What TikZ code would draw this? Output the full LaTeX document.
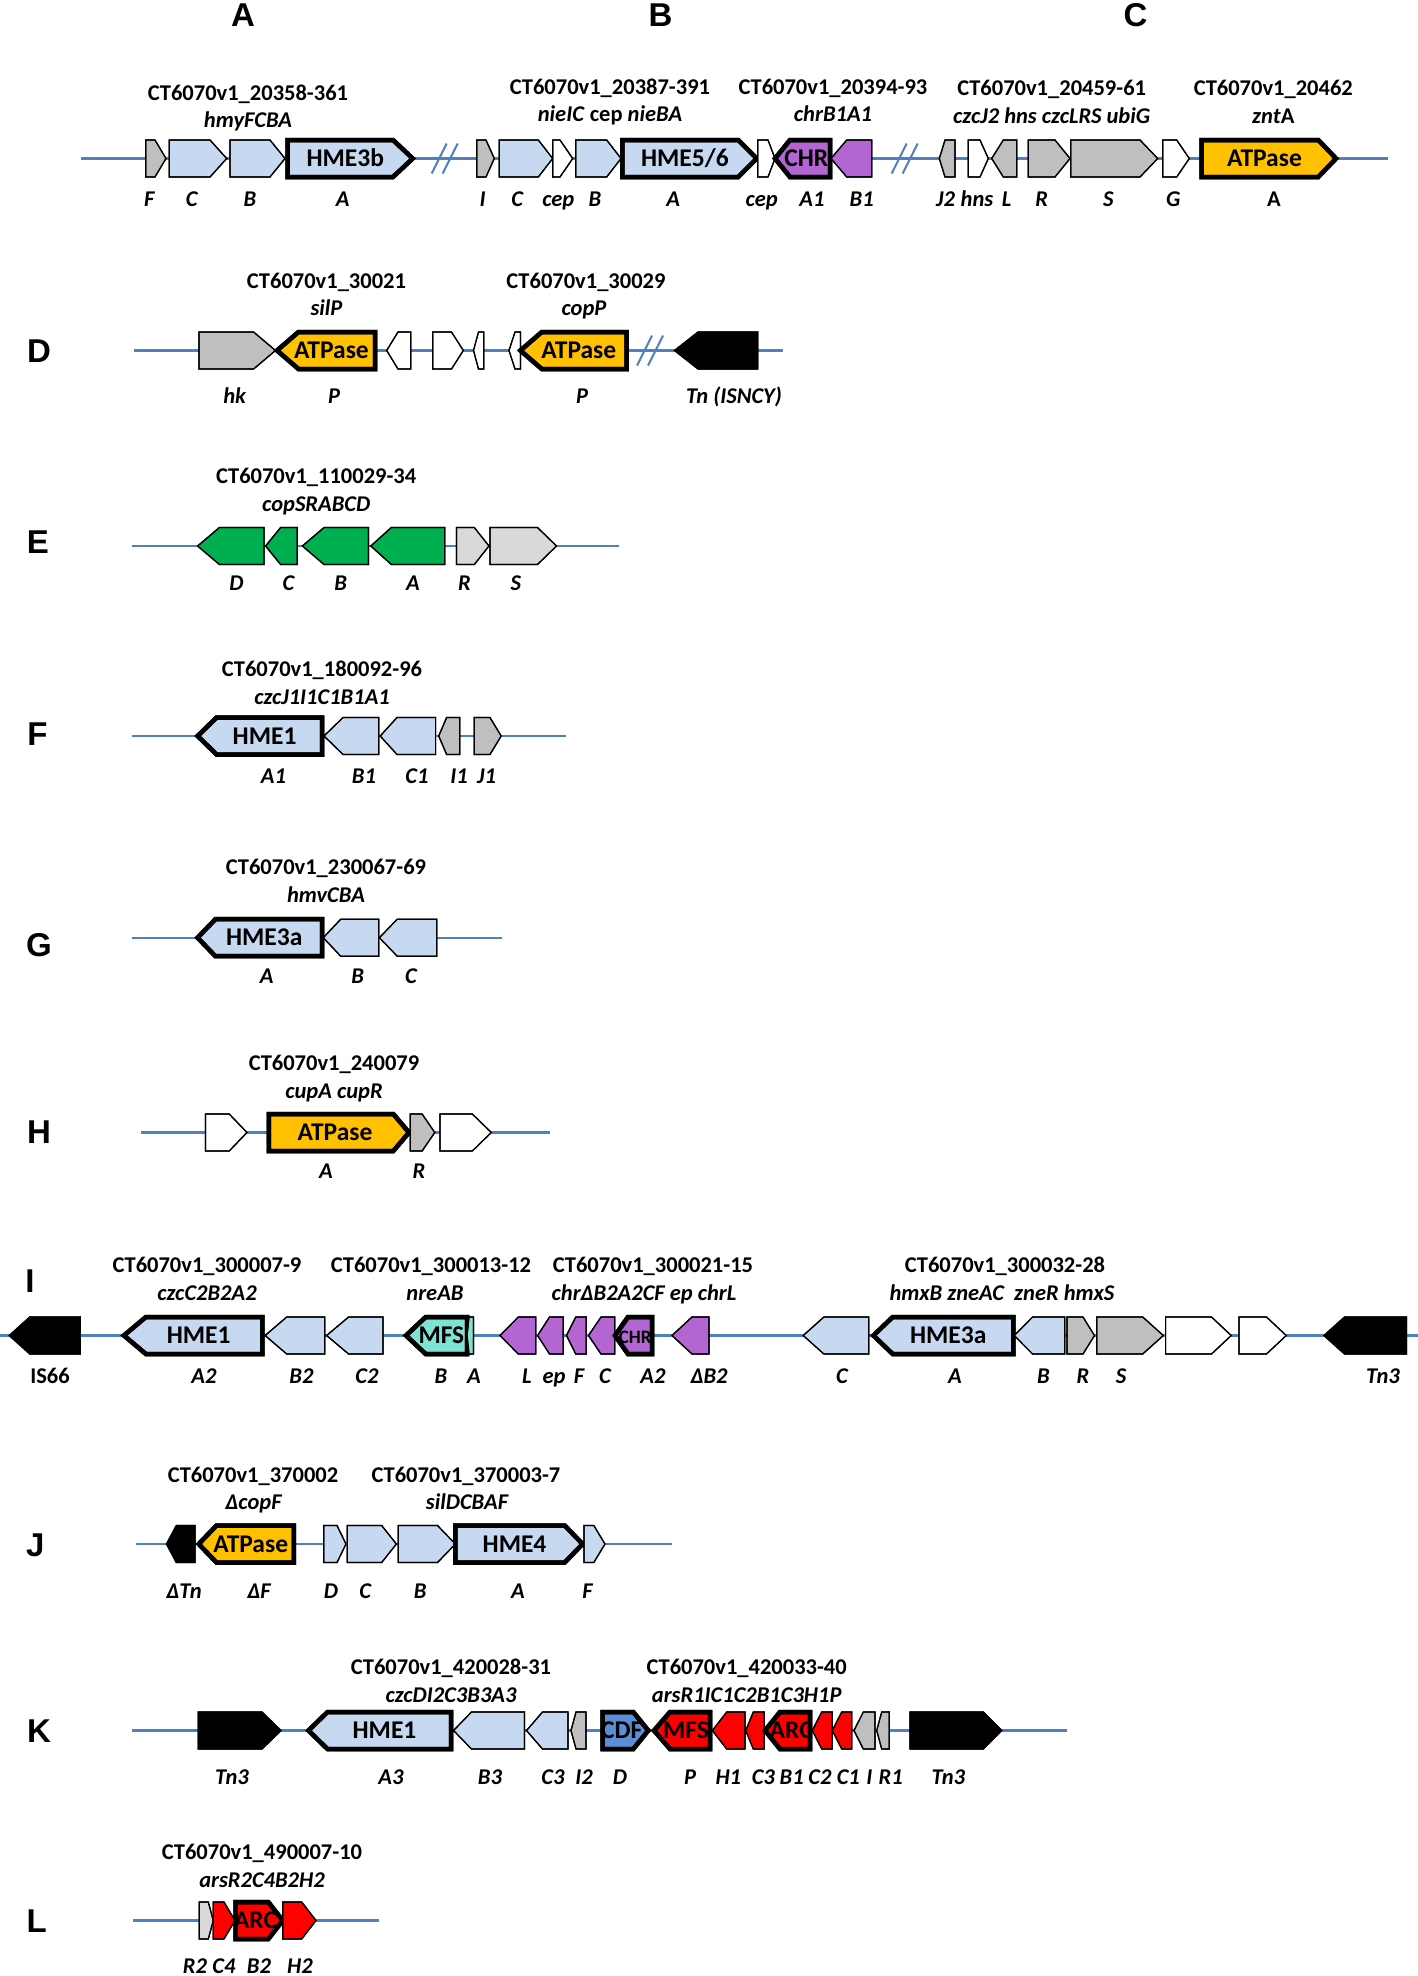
\documentclass[tikz,border=0pt]{standalone}
\usepackage{fontspec}
\setmainfont{Carlito}
\newfontfamily\arialf{Liberation Sans}
\definecolor{lblue}{HTML}{C6D9F1}
\definecolor{gry}{HTML}{BFBFBF}
\definecolor{lgry}{HTML}{D9D9D9}
\definecolor{grn}{HTML}{00B050}
\definecolor{pur}{HTML}{B366D1}
\definecolor{tealc}{HTML}{7FE3D3}
\definecolor{cdfc}{HTML}{5A8FD6}
\definecolor{orng}{HTML}{FFC000}
\definecolor{dnac}{HTML}{4F81BD}
\tikzset{
  gl/.style={draw=black, line width=1.2pt},
  gk/.style={draw=black, line width=4.5pt},
  lbF/.style={fill=lblue}, grF/.style={fill=gry}, lgF/.style={fill=lgry},
  whF/.style={fill=white}, grnF/.style={fill=grn}, purF/.style={fill=pur},
  tealF/.style={fill=tealc}, cdfF/.style={fill=cdfc}, redF/.style={fill=red},
  orF/.style={fill=orng}, blkF/.style={fill=black},
  dnaL/.style={draw=dnac, line width=2.2pt},
  slash/.style={draw=dnac, line width=2pt},
  lbl/.style={font=\fontsize{22.5}{26}\selectfont\bfseries\itshape, inner sep=0pt, text height=14.5pt, text depth=0pt},
  ttl/.style={font=\fontsize{22.5}{26}\selectfont\bfseries, inner sep=0pt, text height=14.5pt, text depth=0pt},
  sub/.style={font=\fontsize{22.5}{26}\selectfont\bfseries\itshape, inner sep=0pt, text height=14.5pt, text depth=0pt},
  gtxt/.style={font=\fontsize{25.5}{28}\selectfont\bfseries, inner sep=0pt, text height=16.4pt, text depth=0pt},
  rowlet/.style={font=\arialf\bfseries\fontsize{33}{36}\selectfont, inner sep=0pt, text height=23.6pt, text depth=0pt},
}
% right-pointing gene: name, style, x1, xt, x2, y, text
\newcommand{\gR}[7]{%
  \draw[#2] (#3,#6-18.5) -- (#4,#6-18.5) -- (#5,#6) -- (#4,#6+18.5) -- (#3,#6+18.5) -- cycle;
  \begin{scope}
    \clip (#3,#6-18.5) -- (#4,#6-18.5) -- (#5,#6) -- (#4,#6+18.5) -- (#3,#6+18.5) -- cycle;
    \node[gtxt] (#1) at ({(#3+#4)/2+(#5-#4)/4},#6) {#7};
  \end{scope}
  \draw[#2,fill=none] (#3,#6-18.5) -- (#4,#6-18.5) -- (#5,#6) -- (#4,#6+18.5) -- (#3,#6+18.5) -- cycle;
}
% left-pointing gene: name, style, x1, xt, x2, y, text
\newcommand{\gL}[7]{%
  \draw[#2] (#5,#6-18.5) -- (#4,#6-18.5) -- (#3,#6) -- (#4,#6+18.5) -- (#5,#6+18.5) -- cycle;
  \begin{scope}
    \clip (#5,#6-18.5) -- (#4,#6-18.5) -- (#3,#6) -- (#4,#6+18.5) -- (#5,#6+18.5) -- cycle;
    \node[gtxt] (#1) at ({(#4+#5)/2-(#4-#3)/4},#6) {#7};
  \end{scope}
  \draw[#2,fill=none] (#5,#6-18.5) -- (#4,#6-18.5) -- (#3,#6) -- (#4,#6+18.5) -- (#5,#6+18.5) -- cycle;
}
\newcommand{\brk}[2]{%
  \draw[slash] (#1,#2+15) -- (#1+15,#2-15);
  \draw[slash] (#1+11,#2+15) -- (#1+26,#2-15);
}
\newcommand{\lab}[4]{\node[lbl] (#1) at (#2,#3) {#4};}
\newcommand{\ttlA}[4]{\node[ttl] (#1) at (#2,#3) {#4};}
\newcommand{\subA}[4]{\node[sub] (#1) at (#2,#3) {#4};}

\begin{document}
\begin{tikzpicture}[x=1pt,y=-1pt]
\fill[white] (0,0) rectangle (1418,1976);
\useasboundingbox (0,0) rectangle (1418,1976);

% ---------- top letters ----------
\node[rowlet] (LA) at (243,15) {A};
\node[rowlet] (LB) at (660.5,15) {B};
\node[rowlet] (LC) at (1135.6,15) {C};

% ---------- row A/B/C ----------
\draw[dnaL] (80.7,158.5) -- (1388,158.5);
\brk{431.7}{158.5}
\brk{891.7}{158.5}
\gR{a1}{grF,gl}{145.7}{155}{166}{158.5}{}
\gR{a2}{lbF,gl}{169.3}{210}{226.7}{158.5}{}
\gR{a3}{lbF,gl}{230}{270}{285}{158.5}{}
\gR{a4}{lbF,gk}{287.7}{393}{412.7}{158.5}{HME3b}
\gR{b1}{grF,gl}{476.7}{486}{494.3}{158.5}{}
\gR{b2}{lbF,gl}{499.3}{538.3}{552.7}{158.5}{}
\gR{b3}{whF,gl}{552.7}{560}{572.7}{158.5}{}
\gR{b4}{lbF,gl}{575.7}{606.7}{621}{158.5}{}
\gR{b5}{lbF,gk}{622.3}{738.3}{756.7}{158.5}{HME5/6}
\gR{b6}{whF,gl}{757.7}{768}{775}{158.5}{}
\gL{b7}{purF,gk}{775}{790}{830}{158.5}{CHR}
\gL{b8}{purF,gl}{831}{846.7}{871.7}{158.5}{}
\gL{c1}{grF,gl}{939.3}{945}{955}{158.5}{}
\gR{c2}{whF,gl}{968.3}{980}{988.3}{158.5}{}
\gL{c3}{grF,gl}{991.7}{1003.3}{1016.7}{158.5}{}
\gR{c4}{grF,gl}{1028.3}{1055}{1070}{158.5}{}
\gR{c5}{grF,gl}{1070.7}{1140}{1157.7}{158.5}{}
\gR{c6}{whF,gl}{1162.7}{1176.7}{1189.3}{158.5}{}
\gR{c7}{orF,gk}{1201.7}{1318.3}{1336}{158.5}{ATPase}
\ttlA{ta1}{248}{93}{CT6070v1\_20358-361}
\subA{sa1}{248}{120.5}{hmyFCBA}
\ttlA{tb1}{610}{87.5}{CT6070v1\_20387-391}
\subA{sb1}{610}{114.5}{nieIC \textup{cep} nieBA}
\ttlA{tb2}{833}{87.5}{CT6070v1\_20394-93}
\subA{sb2}{833}{114.5}{chrB1A1}
\ttlA{tc1}{1051.7}{88}{CT6070v1\_20459-61}
\subA{sc1}{1051.7}{116}{czcJ2 hns czcLRS ubiG}
\ttlA{tc2}{1273.3}{88}{CT6070v1\_20462}
\subA{sc2}{1273.3}{116}{znt\textup{A}}
\lab{la1}{149.3}{199}{F}
\lab{la2}{191.7}{199}{C}
\lab{la3}{250}{199}{B}
\lab{la4}{342.7}{199}{A}
\lab{lb1}{482.7}{199}{I}
\lab{lb2}{517.3}{199}{C}
\lab{lb3}{558.3}{199}{cep}
\lab{lb4}{595}{199}{B}
\lab{lb5}{673.3}{199}{A}
\lab{lb6}{761.7}{199}{cep}
\lab{lb7}{812}{199}{A1}
\lab{lb8}{861.7}{199}{B1}
\lab{lc1}{945.5}{199}{J2}
\lab{lc2}{977}{199}{hns}
\lab{lc3}{1006.5}{199}{L}
\lab{lc4}{1041.7}{199}{R}
\lab{lc5}{1108.3}{199}{S}
\lab{lc6}{1173.3}{199}{G}
\lab{lc7}{1274}{199}{\textup{A}}

% ---------- row D ----------
\node[rowlet] (LD) at (39,350.5) {D};
\draw[dnaL] (133.7,350.5) -- (783,350.5);
\brk{637}{350.5}
\gR{d1}{grF,gl}{199}{253.6}{275.5}{350.5}{}
\gL{d2}{orF,gk}{277}{298.5}{375}{350.5}{ATPase}
\gL{d3}{whF,gl}{386.7}{398}{410.7}{350.5}{}
\gR{d4}{whF,gl}{432.7}{451.5}{463.3}{350.5}{}
\gL{d5}{whF,gl}{473.5}{478.5}{483.7}{350.5}{}
\gL{d6}{whF,gl}{509}{515}{520.4}{350.5}{}
\gL{d7}{orF,gk}{520.4}{541.8}{626.5}{350.5}{ATPase}
\gL{d8}{blkF,gl}{674.5}{698}{757.7}{350.5}{}
\ttlA{td1}{326.5}{281.5}{CT6070v1\_30021}
\subA{sd1}{326.5}{308}{silP}
\ttlA{td2}{586}{281.5}{CT6070v1\_30029}
\subA{sd2}{584}{308}{copP}
\lab{ld1}{234.7}{396.7}{hk}
\lab{ld2}{334}{396.7}{P}
\lab{ld3}{582}{396.7}{P}
\lab{ld4}{734}{396.7}{Tn (ISNCY)}

% ---------- row E ----------
\node[rowlet] (LE) at (38,541.5) {E};
\draw[dnaL] (132.4,546) -- (618.7,546);
\gL{e1}{grnF,gl}{197.6}{219.4}{264}{546}{}
\gL{e2}{grnF,gl}{265.6}{280.6}{297.2}{546}{}
\gL{e3}{grnF,gl}{302.4}{324}{368.4}{546}{}
\gL{e4}{grnF,gl}{370.8}{391.3}{444.7}{546}{}
\gR{e5}{lgF,gl}{456.5}{474.3}{489}{546}{}
\gR{e6}{lgF,gl}{490}{537.5}{556.5}{546}{}
\ttlA{te1}{316.2}{476.5}{CT6070v1\_110029-34}
\subA{se1}{316.2}{504}{copSRABCD}
\lab{le1}{236.4}{583}{D}
\lab{le2}{288.5}{583}{C}
\lab{le3}{340.7}{583}{B}
\lab{le4}{413}{583}{A}
\lab{le5}{464.4}{583}{R}
\lab{le6}{515.8}{583}{S}

% ---------- row F ----------
\node[rowlet] (LF) at (37.5,733.5) {F};
\draw[dnaL] (132.4,736) -- (566,736);
\gL{f1}{lbF,gk}{197.6}{216.6}{322}{736}{HME1}
\gL{f2}{lbF,gl}{324}{343}{378.7}{736}{}
\gL{f3}{lbF,gl}{380.2}{397}{435.6}{736}{}
\gL{f4}{grF,gl}{438.7}{446.6}{459.7}{736}{}
\gR{f5}{grF,gl}{474.3}{490}{501.2}{736}{}
\ttlA{tf1}{322}{669}{CT6070v1\_180092-96}
\subA{sf1}{322}{697}{czcJ1I1C1B1A1}
\lab{lf1}{273.5}{776.5}{A1}
\lab{lf2}{364}{776.5}{B1}
\lab{lf3}{417}{776.5}{C1}
\lab{lf4}{459}{776.5}{I1}
\lab{lf5}{486.5}{776.5}{J1}

% ---------- row G ----------
\node[rowlet] (LG) at (39,945) {G};
\draw[dnaL] (132.4,937.7) -- (501.5,937.7);
\gL{g1}{lbF,gk}{197.6}{215.4}{322}{937.7}{HME3a}
\gL{g2}{lbF,gl}{323.3}{340.7}{378.7}{937.7}{}
\gL{g3}{lbF,gl}{379.4}{397.2}{436.8}{937.7}{}
\ttlA{tg1}{326}{867.5}{CT6070v1\_230067-69}
\subA{sg1}{326}{895}{hmvCBA}
\lab{lg1}{266.8}{976}{A}
\lab{lg2}{357.7}{976}{B}
\lab{lg3}{411}{976}{C}

% ---------- row H ----------
\node[rowlet] (LH) at (39,1132) {H};
\draw[dnaL] (140.8,1132.5) -- (550,1132.5);
\gR{h1}{whF,gl}{205.5}{229.2}{247}{1132.5}{}
\gR{h2}{orF,gk}{268.8}{393.3}{409}{1132.5}{ATPase}
\gR{h3}{grF,gl}{410.3}{422.1}{434.8}{1132.5}{}
\gR{h4}{whF,gl}{440}{472.3}{491.3}{1132.5}{}
\ttlA{th1}{334}{1063}{CT6070v1\_240079}
\subA{sh1}{334}{1091}{cupA cupR}
\lab{lh1}{326}{1171.5}{A}
\lab{lh2}{419}{1171.5}{R}

% ---------- row I ----------
\node[rowlet] (LI) at (30,1281) {I};
\draw[dnaL] (0,1335.5) -- (1418,1335.5);
\gL{i1}{blkF,gl}{9.2}{29.8}{80.3}{1335.5}{}
\gL{i2}{lbF,gk}{123.9}{145.9}{262.4}{1335.5}{HME1}
\gL{i3}{lbF,gl}{265.1}{286.7}{324.8}{1335.5}{}
\gL{i4}{lbF,gl}{326.6}{348.6}{383}{1335.5}{}
\gL{i5}{tealF,gk}{406}{425.7}{467}{1335.5}{MFS}
\gL{i6}{tealF,gl}{467}{469}{473.4}{1335.5}{}
\gL{i7}{purF,gl}{500}{518.3}{535.8}{1335.5}{}
\gL{i8}{purF,gl}{537.6}{549.5}{563.3}{1335.5}{}
\gL{i9}{purF,gl}{566.5}{575.7}{586.2}{1335.5}{}
\gL{i10}{purF,gl}{588.5}{601}{614.7}{1335.5}{}
\gL{i11}{purF,gk}{615}{628}{652}{1335.5}{\fontsize{19}{21}\selectfont\hspace*{-3pt}CHR}
\gL{i12}{purF,gl}{672}{692}{709}{1335.5}{}
\gL{i13}{lbF,gl}{803.2}{823.9}{868.8}{1335.5}{}
\gL{i14}{lbF,gk}{873.4}{892.7}{1013.3}{1335.5}{HME3a}
\gL{i15}{lbF,gl}{1014.2}{1032.6}{1064.7}{1335.5}{}
\gR{i16}{grF,gl}{1067}{1083}{1094.5}{1335.5}{}
\gR{i17}{grF,gl}{1096.8}{1142.7}{1163.3}{1335.5}{}
\gR{i18}{whF,gl}{1165.6}{1211.5}{1231.2}{1335.5}{}
\gR{i19}{whF,gl}{1239}{1266.5}{1286.2}{1335.5}{}
\gL{i20}{blkF,gl}{1323.9}{1344.5}{1406.4}{1335.5}{}
\ttlA{ti1}{207}{1265}{CT6070v1\_300007-9}
\subA{si1}{207}{1293}{czcC2B2A2}
\ttlA{ti2}{431}{1265}{CT6070v1\_300013-12}
\subA{si2}{435}{1293}{nreAB}
\ttlA{ti3}{653}{1265}{CT6070v1\_300021-15}
\subA{si3}{644}{1293}{chrΔB2A2CF ep chrL}
\ttlA{ti4}{1005}{1265}{CT6070v1\_300032-28}
\subA{si4}{1002}{1293}{hmxB zneAC\ \ zneR hmxS}
\lab{li1}{50}{1376}{\textup{IS66}}
\lab{li2}{204}{1376}{A2}
\lab{li3}{301.5}{1376}{B2}
\lab{li4}{367}{1376}{C2}
\lab{li5}{441}{1376}{B}
\lab{li6}{474}{1376}{A}
\lab{li7}{527}{1376}{L}
\lab{li8}{554}{1376}{ep}
\lab{li9}{579}{1376}{F}
\lab{li10}{605}{1376}{C}
\lab{li11}{653}{1376}{A2}
\lab{li12}{709}{1376}{ΔB2}
\lab{li13}{842}{1376}{C}
\lab{li14}{955}{1376}{A}
\lab{li15}{1043.5}{1376}{B}
\lab{li16}{1083}{1376}{R}
\lab{li17}{1121}{1376}{S}
\lab{li18}{1383}{1376}{Tn3}

% ---------- row J ----------
\node[rowlet] (LJ) at (35.3,1545) {J};
\draw[dnaL] (135.5,1544) -- (672,1544);
\gL{j1}{blkF,gl}{166.5}{176.3}{195}{1544}{}
\gL{j2}{orF,gk}{198.7}{216.5}{293.8}{1544}{ATPase}
\gR{j3}{lbF,gl}{323.7}{337}{346}{1544}{}
\gR{j4}{lbF,gl}{347.3}{381.7}{396.4}{1544}{}
\gR{j5}{lbF,gl}{398.2}{437.5}{455.4}{1544}{}
\gR{j6}{lbF,gk}{455.4}{564.7}{582.6}{1544}{HME4}
\gR{j7}{lbF,gl}{584}{593.8}{605}{1544}{}
\ttlA{tj1}{253}{1475}{CT6070v1\_370002}
\subA{sj1}{253.5}{1502.5}{ΔcopF}
\ttlA{tj2}{466}{1475}{CT6070v1\_370003-7}
\subA{sj2}{467}{1502.5}{silDCBAF}
\lab{lj1}{184}{1591}{ΔTn}
\lab{lj2}{259}{1591}{ΔF}
\lab{lj3}{331}{1591}{D}
\lab{lj4}{365.3}{1591}{C}
\lab{lj5}{420.3}{1591}{B}
\lab{lj6}{518}{1591}{A}
\lab{lj7}{587.5}{1591}{F}

% ---------- row K ----------
\node[rowlet] (LK) at (39,1730.5) {K};
\draw[dnaL] (132.3,1730.5) -- (1067,1730.5);
\gR{k1}{blkF,gl}{198.3}{262}{281}{1730.5}{}
\gL{k2}{lbF,gk}{308.5}{327.5}{451}{1730.5}{HME1}
\gL{k3}{lbF,gl}{453.5}{471.5}{524.5}{1730.5}{}
\gL{k4}{lbF,gl}{526.5}{542.5}{568}{1730.5}{}
\gL{k5}{grF,gl}{571}{576}{586}{1730.5}{}
\gR{k6}{cdfF,gk}{602.7}{633.3}{648.3}{1730.5}{CDF}
\gL{k7}{redF,gk}{654}{670}{710}{1730.5}{MFS}
\gL{k8}{redF,gl}{712.3}{726.7}{745}{1730.5}{}
\gL{k9}{redF,gl}{745.7}{753.3}{764.3}{1730.5}{}
\gL{k10}{redF,gk}{765}{780}{810}{1730.5}{ARC}
\gL{k11}{redF,gl}{812.3}{821.7}{832.3}{1730.5}{}
\gL{k12}{redF,gl}{832.3}{841.7}{851.7}{1730.5}{}
\gL{k13}{grF,gl}{854}{863.3}{875}{1730.5}{}
\gL{k14}{grF,gl}{876.7}{881.7}{889.3}{1730.5}{}
\gR{k15}{blkF,gl}{910}{983.3}{1001.7}{1730.5}{}
\ttlA{tk1}{451}{1667.5}{CT6070v1\_420028-31}
\subA{sk1}{451}{1695}{czcDI2C3B3A3}
\ttlA{tk2}{746.7}{1667.5}{CT6070v1\_420033-40}
\subA{sk2}{746.7}{1695}{arsR1IC1C2B1C3H1P}
\lab{lk1}{232}{1777}{Tn3}
\lab{lk2}{391}{1777}{A3}
\lab{lk3}{490}{1777}{B3}
\lab{lk4}{553}{1777}{C3}
\lab{lk5}{584}{1777}{I2}
\lab{lk6}{620}{1777}{D}
\lab{lk7}{690}{1777}{P}
\lab{lk8}{728.3}{1777}{H1}
\lab{lk9}{763.3}{1777}{C3}
\lab{lk10}{791.7}{1777}{B1}
\lab{lk11}{820}{1777}{C2}
\lab{lk12}{848.3}{1777}{C1}
\lab{lk13}{869.3}{1777}{I}
\lab{lk14}{890.7}{1777}{R1}
\lab{lk15}{948.3}{1777}{Tn3}

% ---------- row L ----------
\node[rowlet] (LL) at (36.6,1921) {L};
\draw[dnaL] (133.3,1920.5) -- (379,1920.5);
\gR{l1}{lgF,gl}{199.3}{208.3}{213.3}{1920.5}{}
\gR{l2}{redF,gl}{213.3}{224}{235}{1920.5}{}
\gR{l3}{redF,gk}{235.7}{268.3}{282.7}{1920.5}{ARC}
\gR{l4}{redF,gl}{282.7}{301.7}{316}{1920.5}{}
\ttlA{tl1}{262}{1852.5}{CT6070v1\_490007-10}
\subA{sl1}{262}{1880}{arsR2C4B2H2}
\lab{ll1}{195}{1966}{R2}
\lab{ll2}{224}{1966}{C4}
\lab{ll3}{259}{1966}{B2}
\lab{ll4}{300}{1966}{H2}
\end{tikzpicture}
\end{document}
